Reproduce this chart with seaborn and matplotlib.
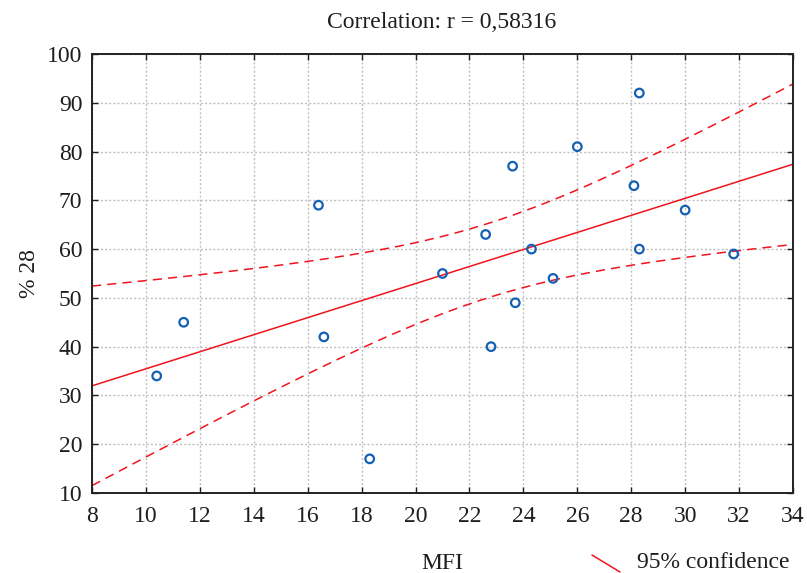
import numpy as np
import pandas as pd
import matplotlib
matplotlib.use("Agg")
import matplotlib.pyplot as plt
import seaborn as sns
from matplotlib.lines import Line2D

# ---- data ----
mfi = [10.4, 11.4, 16.4, 16.6, 18.3, 21.0, 22.6, 22.8, 23.6, 23.7,
       24.3, 25.1, 26.0, 28.1, 28.3, 28.3, 30.0, 31.8]
pct28 = [34, 45, 69, 42, 17, 55, 63, 40, 77, 49,
         60, 54, 81, 73, 92, 60, 68, 59]
x_ticks = [8, 10, 12, 14, 16, 18, 20, 22, 24, 26, 28, 30, 32, 34]
y_ticks = [10, 20, 30, 40, 50, 60, 70, 80, 90, 100]
title_text = "Correlation: r = 0,58316"
x_label = "MFI"
y_label = "% 28"
legend_text = "95% confidence"
T_95_DF16 = 2.1199  # Student t quantile, 95%, df = n-2 = 16

sns.set_theme(style="ticks")
plt.rcParams['font.family'] = ['Liberation Serif', 'DejaVu Serif']

df = pd.DataFrame({"MFI": mfi, "P28": pct28})

# OLS fit and analytic 95% confidence band
x = np.asarray(mfi, float)
y = np.asarray(pct28, float)
n = len(x)
b1, b0 = np.polyfit(x, y, 1)
resid = y - (b0 + b1 * x)
s = np.sqrt(np.sum(resid ** 2) / (n - 2))
sxx = np.sum((x - x.mean()) ** 2)
xg = np.linspace(x_ticks[0], x_ticks[-1], 200)
yg = b0 + b1 * xg
half = T_95_DF16 * s * np.sqrt(1.0 / n + (xg - x.mean()) ** 2 / sxx)
fit = pd.DataFrame({"x": xg, "fit": yg, "lo": yg - half, "hi": yg + half})

fig = plt.figure(figsize=(8.07, 5.73), dpi=100)
ax = fig.add_axes([92 / 807, 1 - 493 / 573, (793 - 92) / 807, (493 - 54) / 573])

red = "#f0141e"
txt = "#1e1e1e"
FS = 17
sns.lineplot(data=fit, x="x", y="fit", ax=ax, color=red, lw=1.1, errorbar=None, sort=True)
sns.lineplot(data=fit, x="x", y="hi", ax=ax, color=red, lw=1.1, errorbar=None,
             dashes=False, linestyle=(0, (6, 4)))
sns.lineplot(data=fit, x="x", y="lo", ax=ax, color=red, lw=1.1, errorbar=None,
             dashes=False, linestyle=(0, (6, 4)))
sns.scatterplot(data=df, x="MFI", y="P28", ax=ax, marker="o", s=38,
                facecolor="none", edgecolor="#1461b4", linewidth=1.6, zorder=5)

ax.set_xlim(x_ticks[0], x_ticks[-1])
ax.set_ylim(y_ticks[0], y_ticks[-1])
ax.set_xticks(x_ticks)
ax.set_yticks(y_ticks)
ax.grid(True, color="#c0c0c0", linestyle=(0, (1.5, 1.5)), linewidth=1.0)
ax.set_axisbelow(True)
for sp in ax.spines.values():
    sp.set_visible(True)
    sp.set_color("#222222")
    sp.set_linewidth(1.4)
ax.tick_params(direction="in", length=4, width=1.0, top=True, right=True,
               labelsize=FS, colors=txt)
ax.tick_params(axis="x", pad=9)
ax.tick_params(axis="y", pad=7)

ax.set_xlabel(x_label, fontsize=FS, color=txt, labelpad=19)
ax.set_ylabel(y_label, fontsize=FS, color=txt, labelpad=5)

# title placed in figure coordinates
fig.text(442 / 807, 1 - 22 / 573, title_text, fontsize=FS, color=txt,
         ha="center", va="center")

# legend key at bottom right
fig.add_artist(Line2D([592 / 807, 620 / 807], [1 - 555 / 573, 1 - 572 / 573],
                      transform=fig.transFigure, color=red, lw=1.1))
fig.text(637 / 807, 1 - 563 / 573, legend_text, fontsize=FS, color=txt,
         va="center", ha="left")

fig.savefig("out.png", dpi=100)
